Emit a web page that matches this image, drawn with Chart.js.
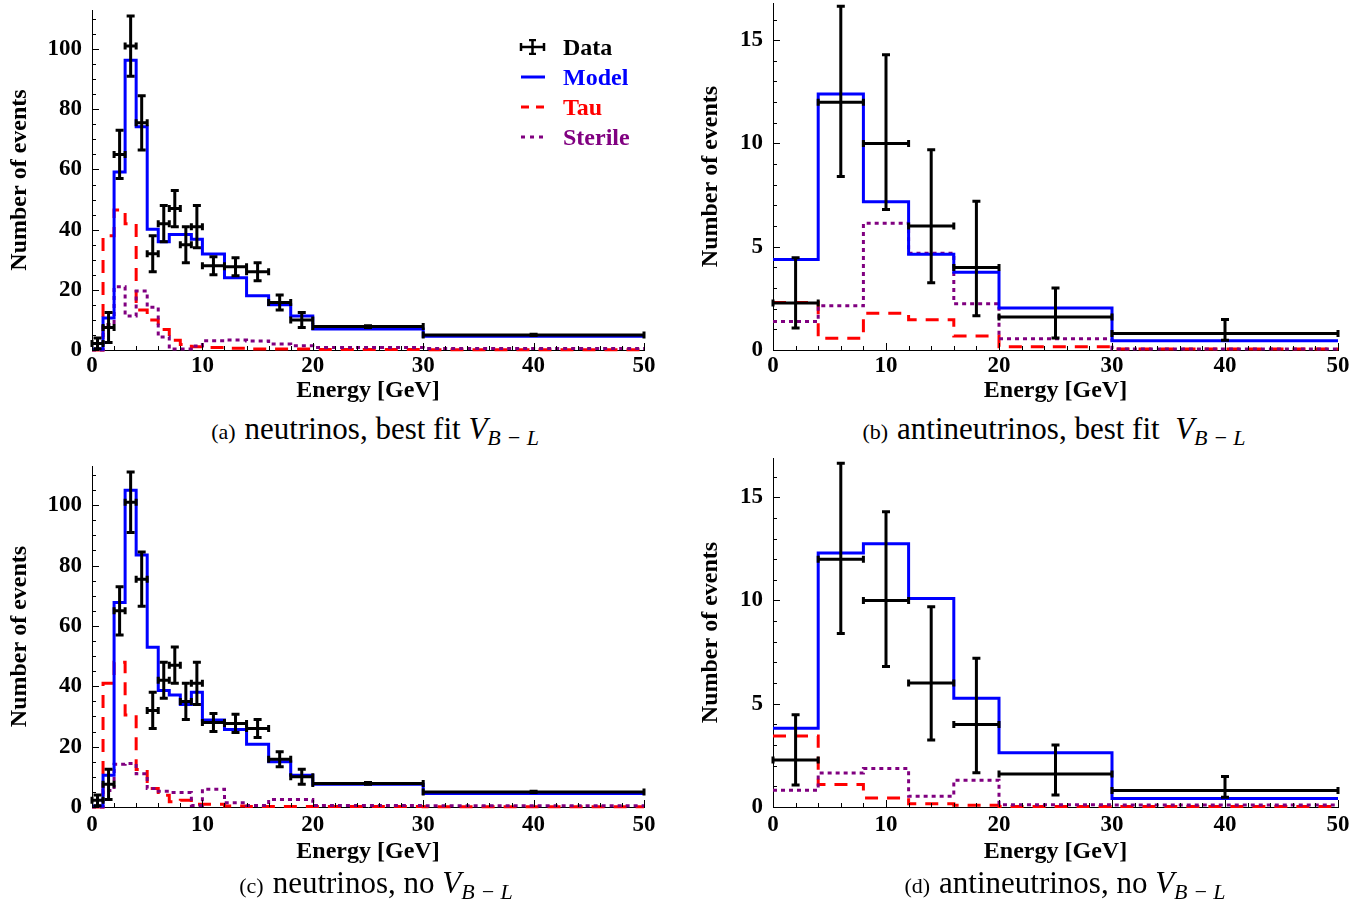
<!DOCTYPE html>
<html>
<head>
<meta charset="utf-8">
<script src="https://cdn.jsdelivr.net/npm/chart.js@4.4.1/dist/chart.umd.min.js"></script>
<style>
body { margin: 0; background: #fff; width: 1366px; height: 909px; overflow: hidden; position: relative;
       font-family: 'Liberation Serif', 'Times New Roman', serif; }
canvas { position: absolute; }
.cap { position: absolute; width: 640px; text-align: center; white-space: nowrap; font-size: 31px; line-height: 31px; color: #000; }
.cap .lbl { font-size: 22px; margin-right: 9px; }
.cap i { font-style: italic; }
.cap sub { font-size: 22px; font-style: italic; vertical-align: -6px; line-height: 0; }
.legend { position: absolute; left: 518px; top: 32px; font-weight: bold; font-size: 24px; }
.legend div { height: 30px; line-height: 30px; display: flex; align-items: center; }
.legend svg { margin-right: 17px; }
</style>
</head>
<body>
<canvas id="nuFit" width="683" height="410" style="left:0;top:0"></canvas>
<canvas id="anuFit" width="683" height="410" style="left:683px;top:0"></canvas>
<canvas id="nuNo" width="683" height="420" style="left:0;top:450px"></canvas>
<canvas id="anuNo" width="683" height="420" style="left:683px;top:450px"></canvas>

<div class="legend">
  <div><svg width="28" height="16"><g stroke="#000" stroke-width="2.5"><line x1="3" y1="8" x2="26" y2="8"/><line x1="3" y1="4" x2="3" y2="12"/><line x1="26" y1="4" x2="26" y2="12"/><line x1="14.5" y1="1" x2="14.5" y2="15"/><line x1="11" y1="1" x2="18" y2="1"/><line x1="11" y1="15" x2="18" y2="15"/></g></svg><span style="color:#000">Data</span></div>
  <div><svg width="28" height="16"><line x1="3" y1="8" x2="27" y2="8" stroke="#0000ff" stroke-width="3"/></svg><span style="color:#0000ff">Model</span></div>
  <div><svg width="28" height="16"><line x1="3" y1="8" x2="27" y2="8" stroke="#ff0000" stroke-width="3" stroke-dasharray="8 7"/></svg><span style="color:#ff0000">Tau</span></div>
  <div><svg width="28" height="16"><line x1="3" y1="8" x2="27" y2="8" stroke="#800080" stroke-width="3" stroke-dasharray="4 5"/></svg><span style="color:#800080">Sterile</span></div>
</div>

<div class="cap" style="left:55px;top:413px"><span class="lbl">(a)</span>neutrinos, best fit <i>V</i><sub>B − L</sub></div>
<div class="cap" style="left:734px;top:413px"><span class="lbl">(b)</span>antineutrinos, best fit &nbsp;<i>V</i><sub>B − L</sub></div>
<div class="cap" style="left:56px;top:867px"><span class="lbl">(c)</span>neutrinos, no <i>V</i><sub>B − L</sub></div>
<div class="cap" style="left:745px;top:867px"><span class="lbl">(d)</span>antineutrinos, no <i>V</i><sub>B − L</sub></div>

<script>
// neutrino energy bins [GeV]
const nuEdges = [0, 1, 2, 3, 4, 5, 6, 7, 8, 9, 10, 12, 14, 16, 18, 20, 30, 50];
const nuCounts = [2.2, 7.5, 65, 101, 75.5, 32, 42, 47, 35, 41, 28, 27.7, 26, 15.8, 10, 7.8, 5];
const nuErrUp = [1.8, 5, 8, 10, 9, 6, 6, 6, 6, 7, 3, 3, 3, 2.5, 2.5, 0.3, 0.2];
const nuErrDown = [1.8, 5, 8, 10, 9, 6, 6, 6, 6, 7, 3, 3, 3, 2.5, 2.5, 0.3, 0.2];

// best fit V_B-L
const nuModelFit = [0.3, 10.6, 59.2, 96.3, 74.2, 40.1, 36, 38.4, 38.4, 36.8, 31.9, 24, 18, 15, 11.3, 7, 4.6];
const nuTauFit = [0, 38, 46.5, 42, 13.3, 10, 6.8, 3.2, 1.8, 1.1, 0.8, 0.55, 0.35, 0.3, 0.3, 0.2, 0.1];
const nuSterileFit = [0, 8.5, 21, 11.3, 19.6, 14.2, 4.3, 0.3, 0.3, 1.3, 3.1, 3.3, 3, 2, 1.4, 0.8, 0.5];

// no V_B-L
const nuModelNo = [0.3, 10.5, 67.8, 105, 83.5, 52.9, 38.6, 37.1, 34, 38, 28.8, 25.7, 20.8, 15, 10.5, 7.5, 4.5];
const nuTauNo = [0, 41, 48, 30.5, 12.4, 6.1, 3.9, 1.7, 2.2, 0.9, 0.9, 0.3, 0.2, 0.2, 0.2, 0.2, 0.1];
const nuSterileNo = [0, 5.5, 14.2, 14.4, 11, 6.1, 5.2, 4.8, 4.8, 0.5, 5.9, 1.4, 0.5, 2.5, 2.5, 0.5, 0.4];

// antineutrino bins
const anuEdges = [0, 4, 8, 12, 16, 20, 30, 50];
const anuCounts = [2.27, 12, 10, 6, 4, 1.6, 0.8];
const anuErrUp = [2.2, 4.64, 4.3, 3.7, 3.2, 1.4, 0.68];
const anuErrDown = [1.2, 3.6, 3.2, 2.75, 2.34, 1.02, 0.33];

const anuModelFit = [4.38, 12.4, 7.18, 4.63, 3.77, 2.03, 0.45];
const anuTauFit = [2.3, 0.57, 1.78, 1.46, 0.68, 0.16, 0.05];
const anuSterileFit = [1.38, 2.14, 6.14, 4.68, 2.24, 0.54, 0.05];

const anuModelNo = [3.81, 12.3, 12.75, 10.1, 5.27, 2.63, 0.41];
const anuTauNo = [3.44, 1.09, 0.44, 0.16, 0.08, 0.03, 0.02];
const anuSterileNo = [0.81, 1.65, 1.86, 0.52, 1.3, 0.11, 0.1];

// axis ticks
const energyMajor = 10, energyMinor = 2;
const nuMajor = 20, nuMinor = 5;
const anuMajor = 5, anuMinor = 1;

const serif = "'Liberation Serif', 'Times New Roman', serif";
const tickFont = {family: serif, size: 23, weight: 'bold'};
const titleFont = {family: serif, size: 24, weight: 'bold'};

// histogram edges -> stepped line points
const steps = (edges, vals) => {
    let pts = vals.map((v, i) => ({x: edges[i], y: v}));
    pts.push({x: edges[edges.length - 1], y: vals[vals.length - 1]});
    return pts;
};

const errorBars = (edges, counts, up, down) => ({
    id: 'errorBars',
    afterDatasetsDraw(chart) {
        const {ctx, scales: {x, y}} = chart;
        ctx.save();
        ctx.strokeStyle = '#000';
        ctx.lineWidth = 3;
        for (let i = 0; i < counts.length; i++) {
            const x0 = x.getPixelForValue(edges[i]);
            const x1 = x.getPixelForValue(edges[i + 1]);
            const xc = x.getPixelForValue((edges[i] + edges[i + 1]) / 2);
            const yc = y.getPixelForValue(counts[i]);
            const yt = y.getPixelForValue(counts[i] + up[i]);
            const yb = y.getPixelForValue(counts[i] - down[i]);
            ctx.beginPath();
            ctx.moveTo(x0, yc); ctx.lineTo(x1, yc);
            ctx.moveTo(x0, yc - 3.5); ctx.lineTo(x0, yc + 3.5);
            ctx.moveTo(x1, yc - 3.5); ctx.lineTo(x1, yc + 3.5);
            ctx.moveTo(xc, yt); ctx.lineTo(xc, yb);
            ctx.moveTo(xc - 4, yt); ctx.lineTo(xc + 4, yt);
            ctx.moveTo(xc - 4, yb); ctx.lineTo(xc + 4, yb);
            ctx.stroke();
        }
        ctx.restore();
    }
});

// inward tick marks (major + minor)
const tickMarks = (xMajor, xMinor, yMajor, yMinor) => ({
    id: 'tickMarks',
    afterDraw(chart) {
        const {ctx, chartArea: a, scales: {x, y}} = chart;
        ctx.save();
        ctx.strokeStyle = '#000';
        ctx.lineWidth = 1;
        ctx.beginPath();
        for (let i = 0; i * xMinor <= x.max + 1e-9; i++) {
            const v = i * xMinor;
            const px = Math.round(x.getPixelForValue(v)) + 0.5;
            const len = (v % xMajor === 0) ? 7 : 4;
            ctx.moveTo(px, a.bottom); ctx.lineTo(px, a.bottom - len);
        }
        for (let i = 0; i * yMinor <= y.max + 1e-9; i++) {
            const v = i * yMinor;
            const py = Math.round(y.getPixelForValue(v)) + 0.5;
            const len = (v % yMajor === 0) ? 7 : 4;
            ctx.moveTo(a.left, py); ctx.lineTo(a.left + len, py);
        }
        ctx.stroke();
        ctx.restore();
    }
});

const makePanel = (id, edges, counts, up, down, model, tau, sterile, yMax, yMajor, yMinor, lay) => {
    const line = (vals, color, dash) => ({
        data: steps(edges, vals),
        borderColor: color,
        borderWidth: 3,
        borderDash: dash,
        stepped: true,
        pointRadius: 0,
        fill: false,
        clip: false
    });
    new Chart(document.getElementById(id), {
        type: 'line',
        data: {
            datasets: [
                line(model, '#0000ff', []),
                line(sterile, '#800080', [4, 4]),
                line(tau, '#ff0000', [13, 9])
            ]
        },
        options: {
            responsive: false,
            animation: false,
            devicePixelRatio: 1,
            layout: {padding: lay.pad},
            plugins: {legend: {display: false}, tooltip: {enabled: false}},
            scales: {
                x: {
                    type: 'linear', min: 0, max: 50,
                    grid: {display: false, drawTicks: false},
                    border: {display: true, color: '#000', width: 1},
                    ticks: {stepSize: energyMajor, includeBounds: false, autoSkip: false, maxRotation: 0,
                            padding: lay.xTickPad, color: '#000', font: tickFont},
                    title: {display: true, text: 'Energy [GeV]', color: '#000', font: titleFont,
                            padding: {top: 0, bottom: lay.xTitlePad}},
                    afterFit: s => { s.height = lay.xH; s.paddingLeft = 0; s.paddingRight = 0; }
                },
                y: {
                    type: 'linear', min: 0, max: yMax,
                    grid: {display: false, drawTicks: false},
                    border: {display: true, color: '#000', width: 1},
                    ticks: {stepSize: yMajor, includeBounds: false, autoSkip: false,
                            padding: lay.yTickPad, color: '#000', font: tickFont},
                    title: {display: true, text: 'Number of events', color: '#000', font: titleFont,
                            padding: {top: lay.yTitlePad, bottom: 0}},
                    afterFit: s => { s.width = lay.yW; s.paddingTop = 0; s.paddingBottom = 0; }
                }
            }
        },
        plugins: [errorBars(edges, counts, up, down), tickMarks(energyMajor, energyMinor, yMajor, yMinor)]
    });
};

makePanel('nuFit', nuEdges, nuCounts, nuErrUp, nuErrDown, nuModelFit, nuTauFit, nuSterileFit, 113, nuMajor, nuMinor,
    {pad: {left: 0, top: 10, right: 39, bottom: 0}, yW: 92, xH: 60, xTickPad: 2, xTitlePad: 5, yTickPad: 10, yTitlePad: 5});
makePanel('anuFit', anuEdges, anuCounts, anuErrUp, anuErrDown, anuModelFit, anuTauFit, anuSterileFit, 16.8, anuMajor, anuMinor,
    {pad: {left: 0, top: 3, right: 28, bottom: 0}, yW: 90, xH: 60, xTickPad: 2, xTitlePad: 5, yTickPad: 10, yTitlePad: 13});
makePanel('nuNo', nuEdges, nuCounts, nuErrUp, nuErrDown, nuModelNo, nuTauNo, nuSterileNo, 113, nuMajor, nuMinor,
    {pad: {left: 0, top: 16, right: 39, bottom: 0}, yW: 92, xH: 63, xTickPad: 4, xTitlePad: 4, yTickPad: 10, yTitlePad: 5});
makePanel('anuNo', anuEdges, anuCounts, anuErrUp, anuErrDown, anuModelNo, anuTauNo, anuSterileNo, 16.9, anuMajor, anuMinor,
    {pad: {left: 0, top: 8, right: 28, bottom: 0}, yW: 90, xH: 63, xTickPad: 4, xTitlePad: 4, yTickPad: 10, yTitlePad: 13});
</script>
</body>
</html>
